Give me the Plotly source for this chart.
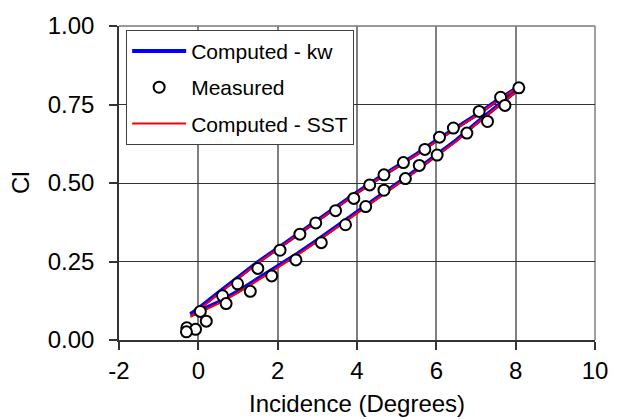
import plotly.graph_objects as go

# ---- data ----
alpha_up = [-0.2, 0.0, 0.5, 1.0, 1.5, 2.0, 2.5, 3.0, 3.5, 4.0, 4.5, 5.0, 5.5, 6.0, 6.5, 7.0, 7.5, 8.0, 8.15]
cl_up_kw = [0.082, 0.100, 0.150, 0.200, 0.248, 0.292, 0.337, 0.382, 0.428, 0.470, 0.512, 0.552, 0.592, 0.636, 0.676, 0.716, 0.760, 0.800, 0.812]
cl_up_sst = [0.074, 0.095, 0.146, 0.196, 0.245, 0.290, 0.335, 0.380, 0.425, 0.468, 0.510, 0.550, 0.590, 0.633, 0.674, 0.714, 0.758, 0.799, 0.812]

alpha_dn = [8.15, 8.0, 7.5, 7.0, 6.5, 6.0, 5.5, 5.0, 4.5, 4.0, 3.5, 3.0, 2.5, 2.0, 1.5, 1.0, 0.5, 0.0, -0.2]
cl_dn_kw = [0.812, 0.792, 0.742, 0.690, 0.636, 0.588, 0.542, 0.497, 0.452, 0.406, 0.362, 0.318, 0.275, 0.234, 0.194, 0.155, 0.120, 0.090, 0.080]
cl_dn_sst = [0.812, 0.790, 0.739, 0.687, 0.633, 0.585, 0.539, 0.494, 0.449, 0.403, 0.358, 0.314, 0.271, 0.230, 0.190, 0.151, 0.116, 0.086, 0.074]

alpha_meas = [-0.29, 0.05, 0.61, 0.99, 1.50, 2.06, 2.56, 2.96, 3.46, 3.92, 4.32, 4.68, 5.17, 5.71, 6.08, 6.43,
              7.08, 7.62, 8.08, 7.73, 7.29, 6.77, 6.02, 5.57, 5.22, 4.68, 4.22, 3.71, 3.10, 2.46, 1.85, 1.31,
              0.70, 0.20, -0.07, -0.30]
cl_meas = [0.039, 0.091, 0.141, 0.179, 0.228, 0.286, 0.337, 0.373, 0.412, 0.451, 0.494, 0.526, 0.565, 0.607, 0.646, 0.675,
           0.728, 0.773, 0.803, 0.747, 0.696, 0.659, 0.589, 0.556, 0.514, 0.477, 0.425, 0.367, 0.310, 0.255, 0.204, 0.155,
           0.116, 0.060, 0.034, 0.026]

x_ticks = [-2, 0, 2, 4, 6, 8, 10]
y_ticks = [0.0, 0.25, 0.5, 0.75, 1.0]
y_ticklabels = ["0.00", "0.25", "0.50", "0.75", "1.00"]

FONT = "Arial, Liberation Sans, sans-serif"
TICK_SIZE = 24

fig = go.Figure()
fig.add_trace(go.Scatter(
    x=alpha_up + alpha_dn, y=cl_up_kw + cl_dn_kw, mode="lines",
    name="Computed - kw", line=dict(color="#0000FF", width=4),
    legendgroup="a", legendrank=1))
fig.add_trace(go.Scatter(
    x=alpha_up + alpha_dn, y=cl_up_sst + cl_dn_sst, mode="lines",
    name="Computed - SST", line=dict(color="#FF0000", width=2),
    legendgroup="c", legendrank=3))
fig.add_trace(go.Scatter(
    x=alpha_meas, y=cl_meas, mode="markers", name="Measured",
    marker=dict(symbol="circle", size=11, color="white", line=dict(color="black", width=2)),
    legendgroup="b", legendrank=2))

fig.update_layout(
    width=620, height=420,
    margin=dict(l=119, r=25, t=22, b=80),
    paper_bgcolor="white", plot_bgcolor="white",
    font=dict(family=FONT, size=22, color="black"),
    showlegend=True,
    legend=dict(
        x=0.015, y=0.988, xanchor="left", yanchor="top",
        bgcolor="white", bordercolor="#404040", borderwidth=1,
        font=dict(family=FONT, size=21, color="black"),
        tracegroupgap=6, itemwidth=54,
    ),
    xaxis=dict(
        range=[-2, 10], tickvals=x_ticks, ticktext=[str(v) for v in x_ticks],
        showgrid=True, gridcolor="#808080", gridwidth=1.5,
        showline=True, linecolor="#333333", linewidth=1.5,
        ticks="outside", ticklen=8, tickcolor="#333333", tickwidth=1.5,
        tickfont=dict(family=FONT, size=TICK_SIZE, color="black"),
        zeroline=False, fixedrange=True,
    ),
    yaxis=dict(
        range=[0, 1], tickvals=y_ticks, ticktext=y_ticklabels,
        showgrid=True, gridcolor="#333333", gridwidth=1,
        showline=True, linecolor="#333333", linewidth=1.5,
        ticks="outside", ticklen=8, tickcolor="#333333", tickwidth=1.5,
        tickfont=dict(family=FONT, size=TICK_SIZE, color="black"),
        ticklabelstandoff=10,
        zeroline=False, fixedrange=True,
    ),
    shapes=[
        dict(type="line", xref="paper", yref="paper", x0=0, x1=1, y0=1, y1=1,
             line=dict(color="#333333", width=1), layer="below"),
        dict(type="line", xref="paper", yref="paper", x0=1, x1=1, y0=0, y1=1,
             line=dict(color="#808080", width=1.5), layer="below"),
    ],
    annotations=[
        dict(text="Incidence (Degrees)", xref="paper", yref="paper", x=0.5, y=0,
             yshift=-63, xanchor="center", yanchor="middle", showarrow=False,
             font=dict(family=FONT, size=TICK_SIZE, color="black")),
        dict(text="Cl", xref="paper", yref="paper", x=0, y=0.5, xshift=-99,
             xanchor="center", yanchor="middle", textangle=-90, showarrow=False,
             font=dict(family=FONT, size=TICK_SIZE, color="black")),
    ],
)

fig.write_html("out.html")
